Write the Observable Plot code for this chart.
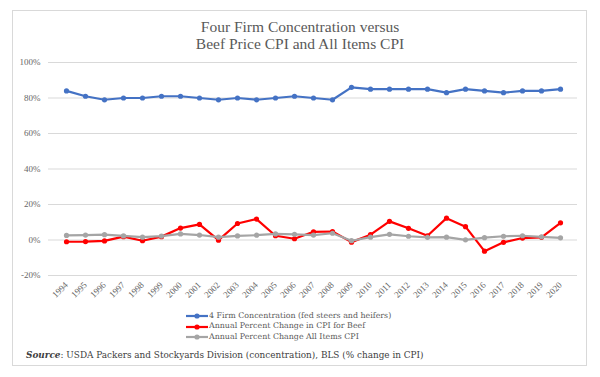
<!DOCTYPE html>
<html>
<head>
<meta charset="utf-8">
<script src="https://cdn.jsdelivr.net/npm/d3@7"></script>
<script src="https://cdn.jsdelivr.net/npm/@observablehq/plot@0.6"></script>
<style>
  html, body { margin: 0; padding: 0; background: #fff; }
  #wrap { position: relative; width: 600px; height: 377px; font-family: "Liberation Serif", serif; }
  #frame { position: absolute; left: 12px; top: 10px; width: 575px; height: 356px; border: 1px solid #d9d9d9; box-sizing: border-box; }
  #title { position: relative; padding-top: 18px; height: 34px; text-align: center; color: #595959; font-size: 15.5px; line-height: 17px; }
  #chart { position: relative; height: 248px; }
  #legend { position: relative; margin-top: 11px; margin-left: 186px; font-family: "DejaVu Serif", serif; font-size: 7.9px; line-height: 10.4px; color: #595959; }
  #legend .row { display: flex; align-items: center; height: 10.4px; white-space: nowrap; }
  #legend svg { margin-right: 1px; }
  #source { position: relative; margin-top: 7px; margin-left: 26px; font-family: "DejaVu Serif", serif; font-size: 8.9px; line-height: 12px; color: #404040; white-space: nowrap; }
</style>
</head>
<body>
<div id="wrap">
  <div id="frame"></div>
  <div id="title">Four Firm Concentration versus<br>Beef Price CPI and All Items CPI</div>
  <div id="chart"></div>
  <div id="legend"></div>
  <div id="source"><b><i>Source</i></b>: USDA Packers and Stockyards Division (concentration), BLS (% change in CPI)</div>
</div>
<script>
const years = ["1994","1995","1996","1997","1998","1999","2000","2001","2002","2003","2004","2005","2006","2007","2008","2009","2010","2011","2012","2013","2014","2015","2016","2017","2018","2019","2020"];
const concentration = [84,81,79,80,80,81,81,80,79,80,79,80,81,80,79,86,85,85,85,85,83,85,84,83,84,84,85];
const beefCPI = [-1.0,-0.9,-0.5,1.9,-0.4,1.9,6.7,8.8,-0.1,9.3,11.8,2.4,0.7,4.6,4.8,-1.2,3.0,10.5,6.6,2.4,12.3,7.5,-6.3,-1.3,1.1,1.5,9.7];
const allItemsCPI = [2.6,2.8,3.0,2.3,1.6,2.2,3.4,2.8,1.6,2.3,2.7,3.4,3.2,2.8,3.8,-0.4,1.6,3.2,2.1,1.5,1.6,0.1,1.3,2.1,2.4,1.8,1.2];
const seriesNames = ["4 Firm Concentration (fed steers and heifers)", "Annual Percent Change in CPI for Beef", "Annual Percent Change All Items CPI"];
const seriesColors = ["#4472C4", "#FF0000", "#A5A5A5"];
const yTicks = [-20, 0, 20, 40, 60, 80, 100];

const seriesValues = [concentration, beefCPI, allItemsCPI];
const data = seriesValues.flatMap((vals, i) => vals.map((v, j) => ({year: years[j], value: v, series: seriesNames[i]})));

const lineMarks = seriesNames.flatMap((name, i) => {
  const d = data.filter(r => r.series === name);
  return [
    Plot.line(d, {x: "year", y: "value", stroke: seriesColors[i], strokeWidth: 2.2}),
    Plot.dot(d, {x: "year", y: "value", fill: seriesColors[i], r: 2.6})
  ];
});

const chart = Plot.plot({
  width: 600,
  height: 248,
  marginTop: 10,
  marginBottom: 25,
  marginLeft: 48,
  marginRight: 23,
  style: {fontFamily: "Liberation Serif, serif", fontSize: "9px", color: "#666666", background: "transparent"},
  x: {type: "point", domain: years, range: [58, 567], padding: 0},
  y: {domain: [-20, 100]},
  marks: [
    Plot.ruleY(yTicks, {stroke: "#d9d9d9", strokeWidth: 1}),
    Plot.axisY({ticks: yTicks, tickSize: 0, tickPadding: 8, tickFormat: d => `${d}%`, label: null}),
    Plot.axisX({tickSize: 0, tickPadding: 8, tickRotate: -45, label: null}),
    ...lineMarks
  ]
});
document.getElementById("chart").appendChild(chart);

const legend = document.getElementById("legend");
seriesNames.forEach((name, i) => {
  const row = document.createElement("div");
  row.className = "row";
  row.innerHTML = `<svg width="22" height="8"><line x1="0" x2="22" y1="4" y2="4" stroke="${seriesColors[i]}" stroke-width="2.2"/><circle cx="11" cy="4" r="2.6" fill="${seriesColors[i]}"/></svg><span>${name}</span>`;
  legend.appendChild(row);
});
</script>
</body>
</html>
